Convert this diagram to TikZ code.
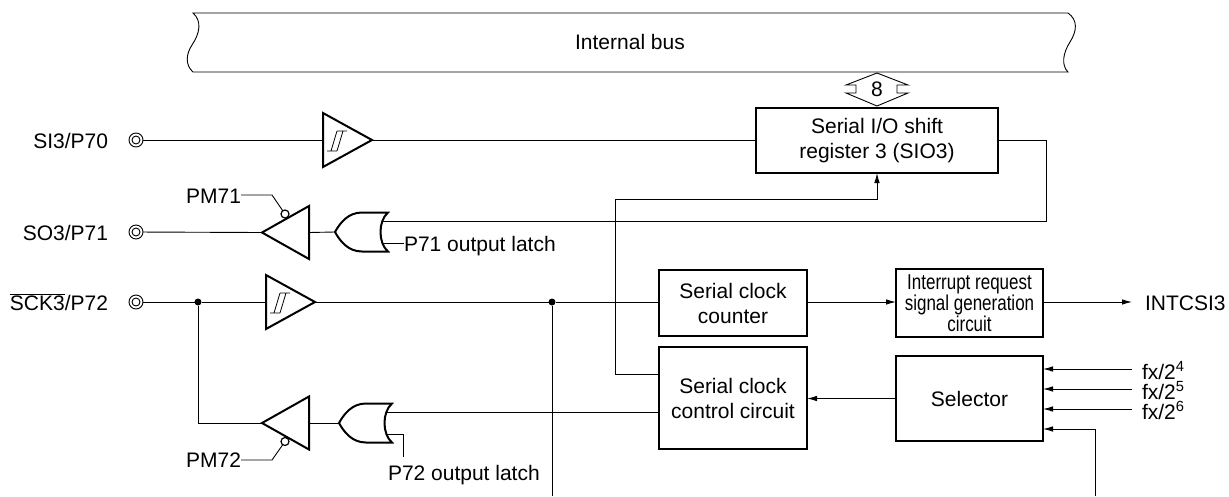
\documentclass[tikz,border=0pt]{standalone}
\usepackage{fontspec}
\setmainfont{Liberation Sans}
\newfontfamily\narrowsans[FakeStretch=0.79]{Liberation Sans}
\usetikzlibrary{arrows.meta,calc}
\begin{document}
\begin{tikzpicture}[x=1pt,y=-1pt,
  every node/.style={font=\fontsize{21}{25}\selectfont, inner sep=0pt, outer sep=0pt},
  wire/.style={line width=0.9pt},
  blk/.style={draw, line width=2.4pt, align=center},
  gate/.style={draw, line width=2pt, line join=miter},
  arr/.style={wire, -{Latex[length=10pt,width=5.5pt]}},
  dot/.style={circle, fill, minimum size=7pt},
  term/.style={circle, draw, line width=0.9pt, minimum size=14pt},
  bubble/.style={circle, draw, line width=1.2pt, fill=white, minimum size=8pt},
  lbl/.style={anchor=base east},
  rlbl/.style={anchor=base west},
  hbuf/.pic={
    \draw[gate] (0,-27) -- (0,27) -- (49,0) -- cycle;
    \draw[line width=0.8pt] (4,11) -- (14,11) (8,11) -- (14,-9) (14,11) -- (20,-9) (14,-9) -- (24,-9);
    \coordinate (-in) at (0,0);
    \coordinate (-out) at (49,0);
  },
  tbuf/.pic={
    \draw[gate] (0,-26.5) -- (0,26.5) -- (-47,0) -- cycle;
    \coordinate (-in) at (0,0);
    \coordinate (-out) at (-47,0);
  },
  orgate/.pic={
    \draw[gate] (53,-19.5) -- (27,-19.5) .. controls (13,-19.5) and (5,-9) .. (0,0)
      .. controls (5,9) and (13,19.5) .. (27,19.5) -- (53,19.5)
      .. controls (43,11) and (43,-11) .. (53,-19.5) -- cycle;
    \coordinate (-tip) at (0,0);
    \coordinate (-in1) at (47.5,-11);
    \coordinate (-in2) at (47.5,11);
  }
]
\useasboundingbox (0,0) rectangle (1229,496);

% internal bus
\draw[wire] (193,13) -- (1068,13) .. controls (1078,20) and (1077,31) .. (1070,42)
  .. controls (1063,53) and (1061,65) .. (1068,72) -- (193,72)
  .. controls (185,65) and (186,54) .. (192,45) .. controls (200,33) and (202,21) .. (193,13) -- cycle;
\node (bus) at (630,42) {Internal bus};

% 8-bit double arrow
\draw[wire] (877,73) -- (908,85) -- (897,85) -- (897,93) -- (908,93) -- (877,106)
  -- (846,93) -- (856,93) -- (856,85) -- (846,85) -- cycle;
\node (eight) at (877,89.5) {8};

% blocks
\node[blk, minimum width=242pt, minimum height=65pt] (sio) at (877,140.5) {Serial I/O shift\\register 3 (SIO3)};
\node[blk, minimum width=148pt, minimum height=66pt] (cnt) at (733,303) {Serial clock\\counter};
\node[blk, minimum width=148pt, minimum height=102pt] (ctl) at (733,398) {Serial clock\\control circuit};
\node[blk, minimum width=147pt, minimum height=68pt, font=\narrowsans\fontsize{21.5}{18.5}\selectfont] (irq) at (969.5,303) {Interrupt request\\signal generation\\circuit};
\node[blk, minimum width=147pt, minimum height=85pt] (sel) at (969.5,398.5) {Selector};

% terminals
\node[term] (t1) at (136,140) {};
\node[term] (t2) at (136,232) {};
\node[term] (t3) at (136,302) {};
\foreach \t in {t1,t2,t3} \draw[wire] (\t.center) circle (4pt);
\node[lbl] (l1) at (108,148) {SI3/P70};
\node[lbl] (l2) at (108,240.5) {SO3/P71};
\node[lbl] (l3) at (108,310.5) {$\overline{\mbox{SCK3}}$/P72};

% gates
\pic (b1) at (323,140) {hbuf};
\pic (b3) at (266,302) {hbuf};
\pic (tb1) at (309,232.5) {tbuf};
\pic (tb2) at (309,423) {tbuf};
\pic (or1) at (335,232) {orgate};
\pic (or2) at (339,423) {orgate};
\node[bubble] (bub1) at (285,214) {};
\node[bubble] (bub2) at (285,441.5) {};

% labels
\node[lbl] (pm71) at (241,203) {PM71};
\node[lbl] (pm72) at (241,467.5) {PM72};
\node[rlbl] (p71) at (404,251) {P71 output latch};
\node[rlbl] (p72) at (388,480.5) {P72 output latch};
\node[rlbl] (intc) at (1145,310.5) {INTCSI3};
\node[rlbl] (fx4) at (1142,379) {fx/2\textsuperscript{4}};
\node[rlbl] (fx5) at (1142,399) {fx/2\textsuperscript{5}};
\node[rlbl] (fx6) at (1142,419) {fx/2\textsuperscript{6}};

% dots
\node[dot] (d1) at (198,302) {};
\node[dot] (d2) at (552,302) {};

% coordinates
\coordinate (k1) at (272,195);
\coordinate (k2) at (272,460);
\coordinate (bot1) at (552,496);
\coordinate (bot2) at (1095,496);
\coordinate (intarr) at (1132,302);
\coordinate (fxs4) at (1132,369);
\coordinate (fxs5) at (1132,389);
\coordinate (fxs6) at (1132,409);
\coordinate (fxs7) at (1095,429);

% SI3 path
\draw[wire] (t1) -- (b1-in);
\draw[wire] (b1-out) -- (b1-out -| sio.west);
% SIO3 out to OR1
\draw[wire] (sio.east) -- ++(48,0) |- (or1-in1);
\draw[wire] (or1-in2) -- (p71.west |- or1-in2);
\draw[wire] (or1-tip) -- (tb1-in);
\draw[wire] (tb1-out) -- (t2);
\draw[wire] (bub1) -- (k1) -- (k1 -| pm71.east);

% SCK3 path
\draw[wire] (t3) -- (d1) -- (b3-in);
\draw[wire] (b3-out) -- (d2) -- (d2 -| cnt.west);
\draw[wire] (d2) -- (bot1);
\draw[wire] (d1) |- (tb2-out);
\draw[wire] (or2-tip) -- (tb2-in);
\draw[wire] (or2-in1) -- (or2-in1 -| ctl.west);
\draw[wire] (or2-in2) -- ++(17,0) -- ++(0,23);
\draw[wire] (bub2) -- (k2) -- (k2 -| pm72.east);

% control to SIO3
\draw[arr] ($(ctl.north west)+(0,27)$) -| (615,199) -| (sio.south);

% clock counter / interrupt
\draw[arr] (cnt.east |- d2) -- (irq.west |- d2);
\draw[arr] (irq.east |- d2) -- (intarr);

% selector
\draw[arr] (sel.west) -- (sel.west -| ctl.east);
\draw[arr] (fxs4) -- (fxs4 -| sel.east);
\draw[arr] (fxs5) -- (fxs5 -| sel.east);
\draw[arr] (fxs6) -- (fxs6 -| sel.east);
\draw[arr] (bot2) |- (fxs7) -- (fxs7 -| sel.east);
\end{tikzpicture}
\end{document}
